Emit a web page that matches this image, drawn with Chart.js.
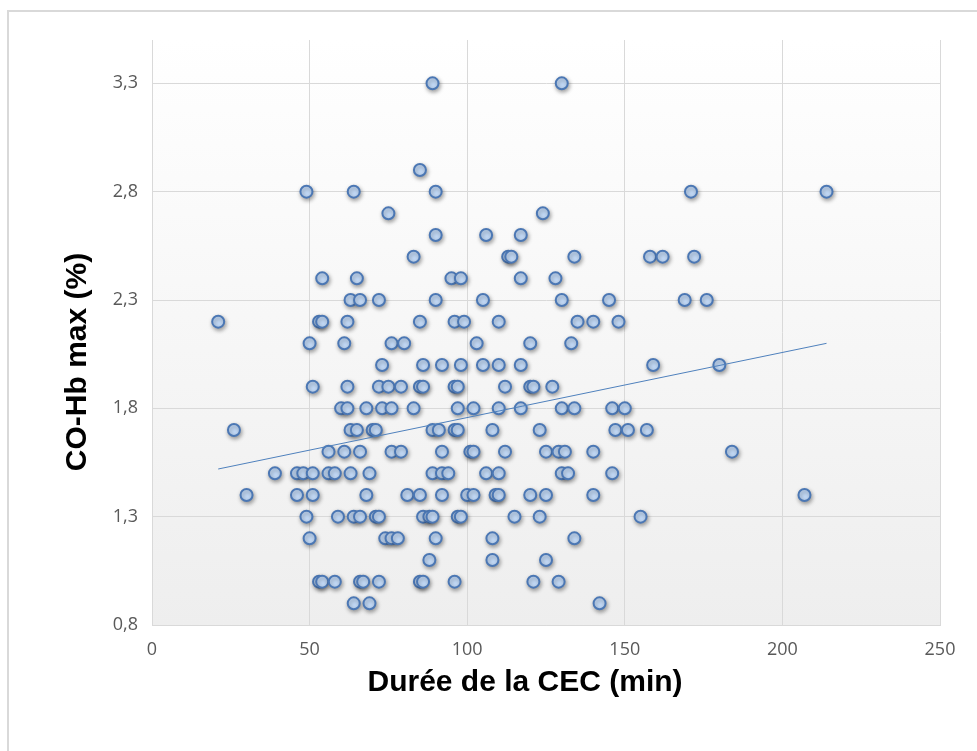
<!DOCTYPE html>
<html>
<head>
<meta charset="utf-8">
<script src="https://cdn.jsdelivr.net/npm/chart.js@4.4.1/dist/chart.umd.min.js"></script>
<style>
body { margin: 0; background: #fff; }
#wrap { width: 977px; height: 751px; position: relative; }
</style>
</head>
<body>
<div id="wrap"><canvas id="cecChart"></canvas></div>
<script>
// CO-Hb max (%) levels, and the CEC durations (min) read at each level
const coHbLevels = [3.3, 2.9, 2.8, 2.7, 2.6, 2.5, 2.4, 2.3, 2.2, 2.1, 2.0, 1.9, 1.8, 1.7, 1.6, 1.5, 1.4, 1.3, 1.2, 1.1, 1.0, 0.9];
const cecDurations = [
	[89, 130],
	[85],
	[49, 64, 90, 171, 214],
	[75, 124],
	[90, 106, 117],
	[83, 113, 114, 134, 158, 162, 172],
	[54, 65, 95, 98, 117, 128],
	[63, 66, 72, 90, 105, 130, 145, 169, 176],
	[21, 53, 54, 62, 85, 96, 99, 110, 135, 140, 148],
	[50, 61, 76, 80, 103, 120, 133],
	[73, 86, 92, 98, 105, 110, 117, 159, 180],
	[51, 62, 72, 75, 79, 85, 86, 96, 97, 112, 120, 121, 127],
	[60, 62, 68, 73, 76, 83, 97, 102, 110, 117, 130, 134, 146, 150],
	[26, 63, 65, 70, 71, 89, 91, 96, 97, 108, 123, 147, 151, 157],
	[56, 61, 66, 76, 79, 92, 101, 102, 112, 125, 129, 131, 140, 184],
	[39, 46, 48, 51, 56, 58, 63, 69, 89, 92, 94, 106, 110, 130, 132, 146],
	[30, 46, 51, 68, 81, 85, 92, 100, 102, 109, 110, 120, 125, 140, 207],
	[49, 59, 64, 66, 71, 72, 86, 88, 89, 97, 98, 115, 123, 155],
	[50, 74, 76, 78, 90, 108, 134],
	[88, 108, 125],
	[53, 54, 58, 66, 67, 72, 85, 86, 96, 121, 129],
	[64, 69, 142]
];
// linear trendline ends
const trendX = [21, 214];
const trendY = [1.52, 2.10];
const yTicks = [0.8, 1.3, 1.8, 2.3, 2.8, 3.3];

const points = [];
coHbLevels.forEach((lvl, i) => {
	cecDurations[i].forEach(d => points.push({ x: d, y: lvl }));
});
const trend = trendX.map((x, i) => ({ x: x, y: trendY[i] }));

const backdrop = {
	id: 'backdrop',
	beforeDraw(chart) {
		const ctx = chart.ctx;
		const a = chart.chartArea;
		ctx.save();
		ctx.fillStyle = '#fff';
		ctx.fillRect(0, 0, chart.width, chart.height);
		ctx.strokeStyle = '#d9d9d9';
		ctx.lineWidth = 2;
		ctx.beginPath();
		ctx.moveTo(8, chart.height);
		ctx.lineTo(8, 11);
		ctx.lineTo(chart.width, 11);
		ctx.stroke();
		const g = ctx.createLinearGradient(0, a.top, 0, a.bottom);
		g.addColorStop(0, '#ffffff');
		g.addColorStop(1, '#eeeeee');
		ctx.fillStyle = g;
		ctx.fillRect(a.left, a.top, a.right - a.left, a.bottom - a.top);
		ctx.restore();
	},
	beforeDatasetDraw(chart, args) {
		if (args.index !== 1) return;
		const ctx = chart.ctx;
		ctx.save();
		ctx.shadowColor = 'rgba(0,0,0,0.35)';
		ctx.shadowBlur = 4;
		ctx.shadowOffsetX = 1;
		ctx.shadowOffsetY = 2;
	},
	afterDatasetDraw(chart, args) {
		if (args.index !== 1) return;
		chart.ctx.restore();
	},
	afterDraw(chart) {
		const ctx = chart.ctx;
		ctx.save();
		ctx.fillStyle = '#000';
		ctx.font = 'bold 30px "Liberation Sans", Arial, sans-serif';
		ctx.textAlign = 'center';
		ctx.textBaseline = 'middle';
		ctx.fillText('Durée de la CEC (min)', 525, 683);
		ctx.translate(78, 362);
		ctx.rotate(-Math.PI / 2);
		ctx.fillText('CO-Hb max (%)', 0, 0);
		ctx.restore();
	}
};

new Chart(document.getElementById('cecChart').getContext('2d'), {
	type: 'scatter',
	data: {
		datasets: [{
			type: 'line',
			label: 'Tendance',
			data: trend,
			borderColor: '#4f81bd',
			borderWidth: 1,
			pointRadius: 0,
			fill: false,
			order: 0
		}, {
			label: 'CO-Hb max',
			data: points,
			backgroundColor: '#c3daf7',
			borderColor: '#4b77b4',
			borderWidth: 2,
			pointRadius: 6,
			order: 1
		}]
	},
	options: {
		responsive: true,
		maintainAspectRatio: false,
		animation: false,
		layout: {
			padding: { top: 40, right: 37, left: 0, bottom: 0 }
		},
		plugins: {
			legend: { display: false },
			tooltip: { enabled: false }
		},
		scales: {
			x: {
				type: 'linear',
				min: 0,
				max: 250,
				afterFit(scale) { scale.height = 126; },
				ticks: {
					stepSize: 50,
					padding: 14,
					color: '#595959',
					font: { family: 'Open Sans', size: 18 }
				},
				grid: { color: '#d9d9d9', drawTicks: false },
				border: { color: '#d9d9d9' }
			},
			y: {
				min: 0.8,
				max: 3.5,
				afterFit(scale) { scale.width = 152; },
				afterBuildTicks(scale) {
					scale.ticks = yTicks.map(v => ({ value: v }));
				},
				ticks: {
					padding: 14,
					color: '#595959',
					font: { family: 'Open Sans', size: 18 },
					callback: v => v.toFixed(1).replace('.', ',')
				},
				grid: { color: '#d9d9d9', drawTicks: false },
				border: { color: '#d9d9d9' }
			}
		}
	},
	plugins: [backdrop]
});
</script>
</body>
</html>
